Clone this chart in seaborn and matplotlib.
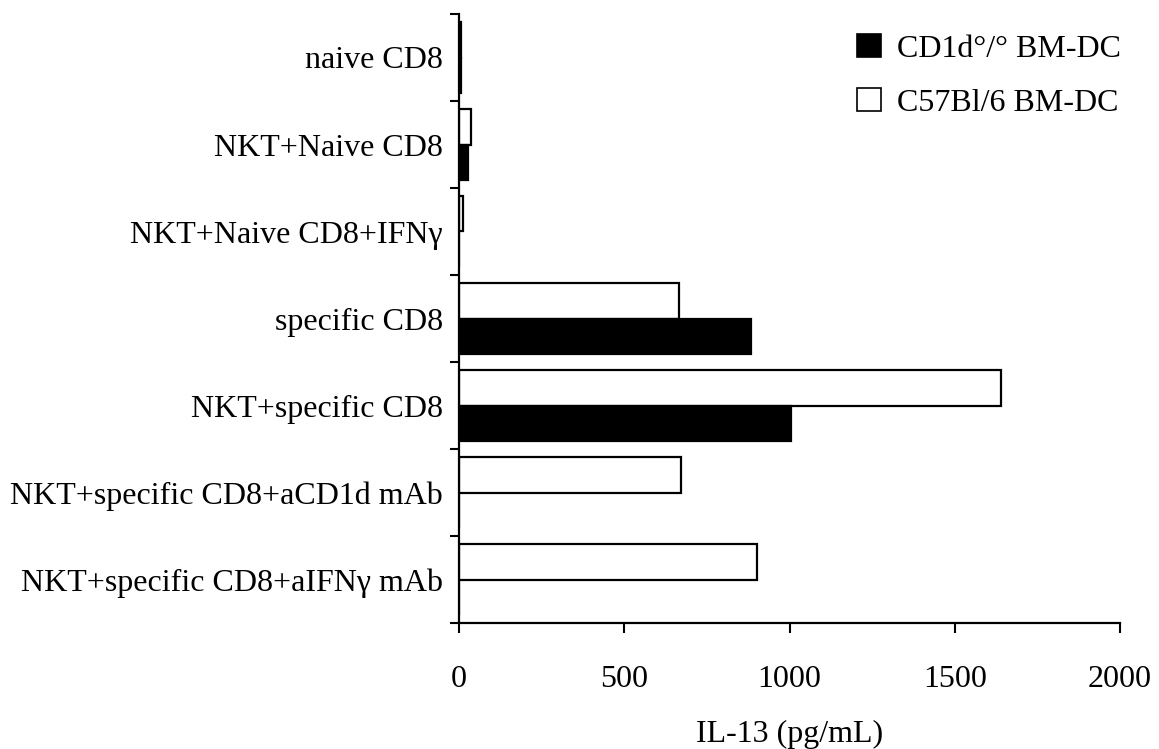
import numpy as np
import pandas as pd
import seaborn as sns
import matplotlib.pyplot as plt
from matplotlib.patches import Patch

# values (IL-13, pg/mL)
groups = [
    "naive CD8",
    "NKT+Naive CD8",
    "NKT+Naive CD8+IFN\u03b3",
    "specific CD8",
    "NKT+specific CD8",
    "NKT+specific CD8+aCD1d mAb",
    "NKT+specific CD8+aIFN\u03b3 mAb",
]
c57_vals = [5, 35, 12, 666, 1639, 671, 901]
cd1d_vals = [5, 28, 0, 883, 1004, 0, 0]

series_c57 = "C57Bl/6 BM-DC"
series_cd1d = "CD1d\u00b0/\u00b0 BM-DC"
x_ticks = [0, 500, 1000, 1500, 2000]

df = pd.DataFrame({
    "group": groups * 2,
    "value": c57_vals + cd1d_vals,
    "cell": [series_c57] * len(groups) + [series_cd1d] * len(groups),
})

sns.set_style("ticks")
plt.rcParams["font.family"] = ["Liberation Serif", "DejaVu Serif"]
plt.rcParams["text.color"] = "black"
plt.rcParams["xtick.labelcolor"] = "black"
plt.rcParams["ytick.labelcolor"] = "black"
plt.rcParams["axes.labelcolor"] = "black"
fs = 23

fig = plt.figure(figsize=(11.59, 7.49), dpi=100)
ax = fig.add_axes([459 / 1159, 1 - 623 / 749, 661 / 1159, 609 / 749])

sns.barplot(data=df, x="value", y="group", hue="cell",
            order=groups, hue_order=[series_c57, series_cd1d],
            palette={series_c57: "white", series_cd1d: "black"},
            edgecolor="black", linewidth=1.6, width=0.82,
            orient="h", legend=False, ax=ax)

ax.set_xlim(0, 2000)
ax.set_ylim(6.5, -0.5)
ax.set_xticks(x_ticks)
ax.set_xticklabels([str(t) for t in x_ticks], fontsize=fs)
ax.set_yticks(np.arange(-0.5, len(groups), 1), minor=True)
ax.tick_params(axis="y", which="major", length=0, pad=11.5, labelsize=fs,
               labelcolor="black")
ax.tick_params(axis="y", which="minor", length=6.5, width=1.5, color="black")
ax.tick_params(axis="x", which="major", length=7.2, width=1.5, pad=23,
               color="black", labelcolor="black")
ax.set_ylabel("")
ax.set_xlabel("IL-13 (pg/mL)", fontsize=fs, labelpad=19, color="black")

for side in ["top", "right"]:
    ax.spines[side].set_visible(False)
for side in ["left", "bottom"]:
    ax.spines[side].set_linewidth(1.6)
    ax.spines[side].set_color("black")

handles = [Patch(facecolor="black", edgecolor="black", linewidth=1.2),
           Patch(facecolor="white", edgecolor="black", linewidth=1.2)]
fig.legend(handles, [series_cd1d, series_c57], loc="upper left",
           bbox_to_anchor=(857 / 1159, 1 - 34 / 749), frameon=False,
           fontsize=fs, handlelength=0.75, handleheight=0.75,
           handletextpad=0.5, labelspacing=0.75, borderpad=0,
           borderaxespad=0)

fig.savefig("out.png", dpi=100)
